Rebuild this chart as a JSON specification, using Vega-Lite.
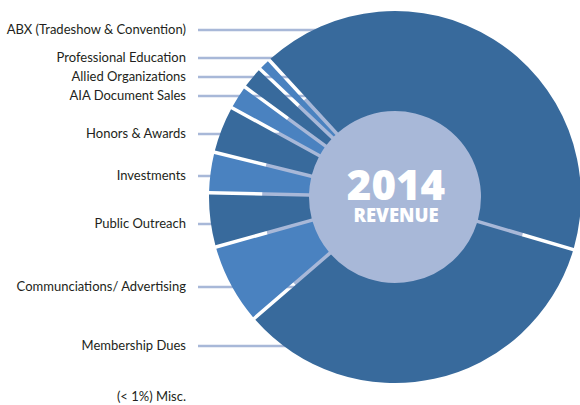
{
  "$schema": "https://vega.github.io/schema/vega-lite/v6.json",
  "width": 580,
  "height": 405,
  "autosize": {"type": "none"},
  "padding": 0,
  "background": "white",
  "config": {"view": {"stroke": null}},
  "datasets": {
    "segments": [
      {"name": "ABX (Tradeshow & Convention)", "share": 41.4, "order": 1},
      {"name": "Membership Dues", "share": 34.1, "order": 2},
      {"name": "Communciations/ Advertising", "share": 7.0, "order": 3},
      {"name": "Public Outreach", "share": 4.7, "order": 4},
      {"name": "Investments", "share": 3.5, "order": 5},
      {"name": "Honors & Awards", "share": 4.1, "order": 6},
      {"name": "AIA Document Sales", "share": 2.1, "order": 7},
      {"name": "Allied Organizations", "share": 2.0, "order": 8},
      {"name": "Professional Education", "share": 1.1, "order": 9}
    ],
    "labels": [
      {"label": "ABX (Tradeshow & Convention)", "y": 30, "leader": true},
      {"label": "Professional Education", "y": 58, "leader": true},
      {"label": "Allied Organizations", "y": 77, "leader": true},
      {"label": "AIA Document Sales", "y": 96, "leader": true},
      {"label": "Honors & Awards", "y": 134, "leader": true},
      {"label": "Investments", "y": 176, "leader": true},
      {"label": "Public Outreach", "y": 224, "leader": true},
      {"label": "Communciations/ Advertising", "y": 287, "leader": true},
      {"label": "Membership Dues", "y": 346, "leader": true},
      {"label": "(< 1%) Misc.", "y": 397, "leader": false}
    ]
  },
  "layer": [
    {
      "data": {"name": "labels"},
      "transform": [{"filter": "datum.leader"}],
      "mark": {"type": "rule", "color": "#a8b8d8", "strokeWidth": 2.5},
      "encoding": {
        "x": {"datum": 198, "type": "quantitative", "scale": {"domain": [0, 580], "nice": false, "zero": false}, "axis": null},
        "x2": {"datum": 395},
        "y": {"field": "y", "type": "quantitative", "scale": {"domain": [0, 405], "nice": false, "zero": false, "reverse": true}, "axis": null}
      }
    },
    {
      "data": {"values": [{"part": "hub"}]},
      "mark": {"type": "point", "shape": "circle", "filled": true, "size": 70686, "color": "#a8b8d8", "opacity": 1, "strokeWidth": 0},
      "encoding": {
        "x": {"datum": 395, "type": "quantitative"},
        "y": {"datum": 197, "type": "quantitative"}
      }
    },
    {
      "data": {"name": "segments"},
      "mark": {"type": "arc", "innerRadius": 86, "outerRadius": 186, "padAngle": 0.017},
      "encoding": {
        "theta": {"field": "share", "type": "quantitative", "stack": true, "scale": {"range": [5.54, 11.823]}},
        "order": {"field": "order", "type": "quantitative"},
        "color": {
          "field": "name",
          "type": "nominal",
          "legend": null,
          "scale": {
            "domain": ["ABX (Tradeshow & Convention)", "Membership Dues", "Communciations/ Advertising", "Public Outreach", "Investments", "Honors & Awards", "AIA Document Sales", "Allied Organizations", "Professional Education"],
            "range": ["#386a9c", "#386a9c", "#4a82c0", "#386a9c", "#4a82c0", "#386a9c", "#4a82c0", "#386a9c", "#4a82c0"]
          }
        },
        "x": {"datum": 395, "type": "quantitative"},
        "y": {"datum": 197, "type": "quantitative"}
      }
    },
    {
      "data": {"values": [{"t": "2014"}]},
      "mark": {"type": "text", "font": "Open Sans", "fontWeight": 800, "fontSize": 42, "color": "white", "align": "center", "baseline": "middle"},
      "encoding": {
        "text": {"field": "t"},
        "x": {"datum": 396, "type": "quantitative"},
        "y": {"datum": 187, "type": "quantitative"}
      }
    },
    {
      "data": {"values": [{"t": "REVENUE"}]},
      "mark": {"type": "text", "font": "Open Sans", "fontWeight": 800, "fontSize": 18.5, "color": "white", "align": "center", "baseline": "middle"},
      "encoding": {
        "text": {"field": "t"},
        "x": {"datum": 396, "type": "quantitative"},
        "y": {"datum": 216, "type": "quantitative"}
      }
    },
    {
      "data": {"name": "labels"},
      "mark": {"type": "text", "font": "Lato", "fontSize": 13, "color": "#231f20", "align": "right", "baseline": "middle"},
      "encoding": {
        "text": {"field": "label"},
        "x": {"datum": 186, "type": "quantitative"},
        "y": {"field": "y", "type": "quantitative"}
      }
    }
  ]
}
